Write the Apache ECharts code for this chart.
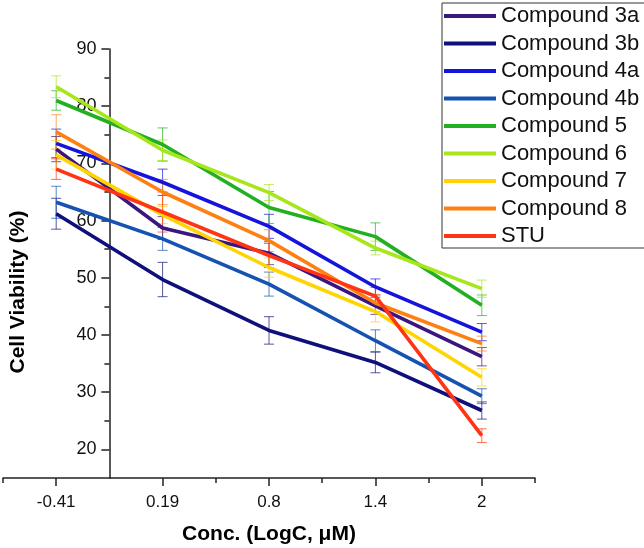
<!DOCTYPE html>
<html><head><meta charset="utf-8">
<script src="https://cdn.jsdelivr.net/npm/echarts@6/dist/echarts.min.js"></script>
<style>html,body{margin:0;padding:0;background:#fff}#c{width:644px;height:548px}</style>
</head><body><div id="c"></div>
<script>
// ---- data ----
const xLabels = ['-0.41', '0.19', '0.8', '1.4', '2'];
const seriesNames = ['Compound 3a', 'Compound 3b', 'Compound 4a', 'Compound 4b', 'Compound 5', 'Compound 6', 'Compound 7', 'Compound 8', 'STU'];
const c3a = [72.5, 58.7, 54.3, 45.1, 36.2];
const c3b = [61.2, 49.7, 40.8, 35.2, 26.8];
const c4a = [73.5, 66.7, 59.0, 48.4, 40.5];
const c4b = [63.2, 56.8, 48.9, 39.0, 29.3];
const c5  = [81.0, 73.3, 62.3, 57.2, 45.2];
const c6  = [83.4, 72.3, 64.9, 55.2, 48.1];
const c7  = [71.5, 61.0, 51.8, 44.1, 32.6];
const c8  = [75.5, 65.0, 56.5, 45.6, 38.5];
const stu = [69.0, 61.5, 53.9, 46.8, 22.4];
const e3a = [2.2, 2.0, 2.0, 1.5, 1.6];
const e3b = [2.7, 3.0, 2.4, 1.8, 1.5];
const e4a = [2.5, 2.3, 2.1, 1.4, 1.5];
const e4b = [2.8, 2.0, 2.1, 1.9, 1.3];
const e5  = [1.7, 2.9, 2.8, 2.4, 1.8];
const e6  = [1.9, 1.8, 1.4, 1.2, 1.5];
const e7  = [2.5, 1.5, 1.7, 1.8, 1.5];
const e8  = [3.0, 2.2, 1.9, 1.5, 1.3];
const eStu = [1.8, 3.5, 2.1, 1.5, 1.2];
const yMajorTicks = [20, 30, 40, 50, 60, 70, 80, 90];
const yMinorTicks = [25, 35, 45, 55, 65, 75, 85];

const values = [c3a, c3b, c4a, c4b, c5, c6, c7, c8, stu];
const errors = [e3a, e3b, e4a, e4b, e5, e6, e7, e8, eStu];
const colors = ['#3b167f', '#10107c', '#1414dc', '#1552b2', '#22b022', '#a6e61a', '#ffd400', '#ff8012', '#ff3414'];

// category i is drawn at axis value i (axis spans -0.5 .. 4.5)
const xAt = i => i;
const xLabelPos = xLabels.map((_, i) => xAt(i));
const xMinorPos = [-0.5, 1.5, 2.5, 3.5, 4.5];

const FONT = '"Liberation Sans", Arial, sans-serif';
const AX = '#222';
const GRID_LEFT = 3, GRID_RIGHT = 109;
const PLOT_W = 644 - GRID_LEFT - GRID_RIGHT;
// y axis crosses the x axis half a category in from the left edge
const Y_AXIS_SHIFT = -PLOT_W / 5;

const lineSeries = seriesNames.map((name, k) => ({
  name: name,
  type: 'line',
  xAxisIndex: 0, yAxisIndex: 0,
  data: values[k].map((v, i) => [xAt(i), v]),
  symbol: 'none',
  lineStyle: { width: 3.6, color: colors[k] },
  itemStyle: { color: colors[k] },
  z: 3
}));

const errData = [];
values.forEach((arr, k) => arr.forEach((v, i) => errData.push([xAt(i), v - errors[k][i], v + errors[k][i], k])));

const errSeries = {
  name: 'errors',
  type: 'custom',
  xAxisIndex: 0, yAxisIndex: 0,
  data: errData,
  encode: { x: 0, y: [1, 2] },
  z: 1,
  silent: true,
  renderItem: function (params, api) {
    const x = api.value(0), lo = api.value(1), hi = api.value(2), k = api.value(3);
    const a = api.coord([x, hi]), b = api.coord([x, lo]);
    const hw = 5;
    const style = { stroke: colors[k], lineWidth: 1, opacity: 0.7 };
    return { type: 'group', children: [
      { type: 'line', shape: { x1: a[0], y1: a[1], x2: b[0], y2: b[1] }, style: style },
      { type: 'line', shape: { x1: a[0] - hw, y1: a[1], x2: a[0] + hw, y2: a[1] }, style: style },
      { type: 'line', shape: { x1: b[0] - hw, y1: b[1], x2: b[0] + hw, y2: b[1] }, style: style }
    ]};
  }
};

const chart = echarts.init(document.getElementById('c'), null, { renderer: 'canvas' });
chart.setOption({
  animation: false,
  backgroundColor: '#fff',
  grid: { left: GRID_LEFT, right: GRID_RIGHT, top: 49, bottom: 70, containLabel: false, outerBoundsMode: 'none' },
  legend: {
    orient: 'vertical', left: 442, top: 3,
    padding: [2, 220, 1, 2],
    icon: 'rect',
    itemWidth: 52, itemHeight: 4, itemGap: 5.5,
    borderColor: '#333', borderWidth: 1,
    textStyle: { fontSize: 22, lineHeight: 22, color: '#111', fontFamily: FONT },
    data: seriesNames
  },
  xAxis: [{
    type: 'value', min: -0.5, max: 4.5, position: 'bottom',
    axisLine: { onZero: false, lineStyle: { color: AX, width: 1.5 } },
    axisTick: { show: true, length: 8, customValues: xLabelPos, lineStyle: { color: AX, width: 1.5 } },
    axisLabel: { customValues: xLabelPos, margin: 16, fontSize: 17, color: '#111', fontFamily: FONT,
      formatter: v => xLabels[Math.round(v)] },
    splitLine: { show: false },
    name: 'Conc. (LogC, \u03bcM)', nameLocation: 'middle', nameGap: 46,
    nameTextStyle: { fontSize: 21, fontWeight: 'bold', color: '#000', fontFamily: FONT }
  }, {
    type: 'value', min: -0.5, max: 4.5, position: 'bottom',
    axisLine: { show: false, onZero: false },
    axisTick: { show: true, length: 5, customValues: xMinorPos, lineStyle: { color: AX, width: 1.5 } },
    axisLabel: { show: false },
    splitLine: { show: false }
  }],
  yAxis: [{
    type: 'value', min: 15, max: 90, position: 'left', offset: Y_AXIS_SHIFT,
    axisLine: { show: true, onZero: false, lineStyle: { color: AX, width: 1.5 } },
    axisTick: { show: true, length: 8, customValues: yMajorTicks, lineStyle: { color: AX, width: 1.5 } },
    axisLabel: { customValues: yMajorTicks, margin: 13, fontSize: 18, color: '#111', fontFamily: FONT },
    splitLine: { show: false }
  }, {
    type: 'value', min: 15, max: 90, position: 'left', offset: Y_AXIS_SHIFT,
    axisLine: { show: false, onZero: false },
    axisTick: { show: true, length: 5, customValues: yMinorTicks, lineStyle: { color: AX, width: 1.5 } },
    axisLabel: { show: false },
    splitLine: { show: false }
  }],
  graphic: [{
    type: 'text', x: 18, y: 292, rotation: Math.PI / 2,
    style: { text: 'Cell Viability (%)', font: 'bold 21px ' + FONT, fill: '#000', align: 'center', verticalAlign: 'middle' }
  }],
  series: [errSeries].concat(lineSeries)
});
</script>
</body></html>
